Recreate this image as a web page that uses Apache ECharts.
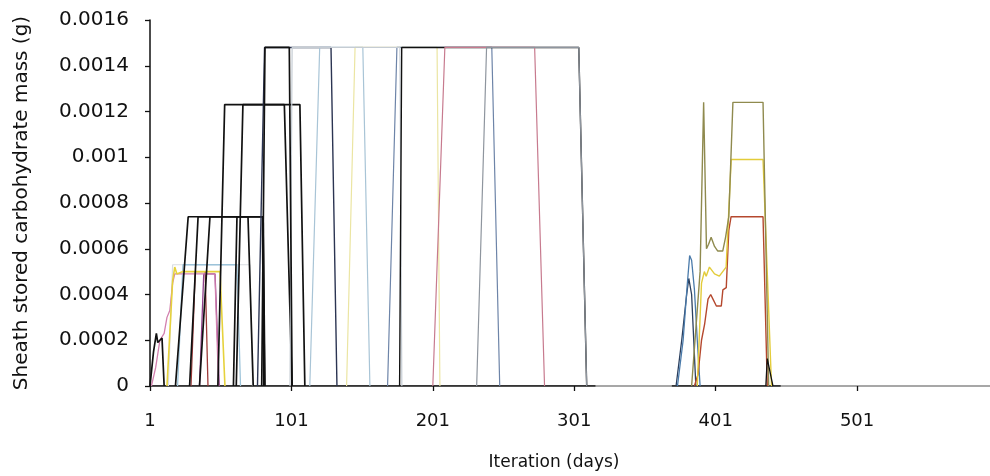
<!DOCTYPE html>
<html>
<head>
<meta charset="utf-8">
<script src="https://cdn.jsdelivr.net/npm/echarts@6/dist/echarts.min.js"></script>
<style>html,body{margin:0;padding:0;background:#fff}#c{width:990px;height:476px}</style>
</head>
<body>
<div id="c"></div>
<script>
// ---- tick labels ----
const xTicks = [1, 101, 201, 301, 401, 501];
const yMin = 0, yMax = 0.0016, yStep = 0.0002;

// ---- series values: [iteration day, sheath stored carbohydrate mass (g)] ----
const baseline = [[1,0],[316,0],[null,'-'],[370,0],[447,0]];
const blackStart = [[1,0],[3.5,0.00015],[5.5,0.00023],[6.5,0.00019],[8,0.0002],[9.5,0.00021],[11,0]];
const pinkFirst = [[2,0],[5,0.00008],[8,0.0002],[11,0.00023],[13,0.0003],[15,0.00033],[17,0.00045],[18.5,0.00049],[46.9,0.00049],[49.5,0]];
const paleGrayL1 = [[14,0],[17,0.00053],[71.7,0.00053],[73.5,0]];
const yellowL1 = [[13,0],[17,0.00046],[18.5,0.00052],[20,0.00049],[24,0.0005],[50.5,0.0005],[54,0]];
const lightBlueL1 = [[20.5,0],[24.3,0.00053],[62.5,0.00053],[65,0]];
const redL1 = [[30,0],[33,0.0005],[40,0.0005],[42,0]];
const purpleL1 = [[36,0],[39,0.00049],[47,0.00049],[50,0]];
const blackL2a = [[19,0],[28,0.00074],[81,0.00074],[82.3,0]];
const blackL2b = [[29,0],[35,0.00074],[70.3,0.00074],[74,0]];
const blackL2c = [[36,0],[43.4,0.00074],[80.5,0.00074],[81.5,0]];
const blackL2d = [[60,0],[62.5,0.00074],[81,0.00074],[82,0]];
const blackL3a = [[49,0],[53.8,0.00123],[96,0.00123],[101.4,0]];
const blackL3b = [[62,0],[66.7,0.00123],[107,0.00123],[110.5,0]];
const navyL4 = [[77,0],[82,0.00148],[129,0.00148],[133.2,0]];
const blackL4a = [[80,0],[82.3,0.00148],[99.5,0.00148],[101.5,0]];
const lightBlueL4 = [[114,0],[121,0.00148],[151.5,0.00148],[156.5,0]];
const paleYellowL4 = [[140,0],[146,0.00148],[204,0.00148],[206,0]];
const steelL4 = [[169,0],[175.6,0.00148],[242.7,0.00148],[248.3,0]];
const lightGrayL4 = [[100,0],[101.5,0.00148],[177.7,0.00148],[179.1,0]];
const blackL4b = [[177.5,0],[179,0.00148],[304.2,0.00148],[309.8,0]];
const pinkL4 = [[201,0],[209.5,0.00148],[273,0.00148],[280,0]];
const grayL4 = [[232,0],[239,0.00148],[304.2,0.00148],[309.8,0]];
const navyLate = [[373,0],[377,0.0002],[380.5,0.0004],[382,0.00047],[384,0.0004],[387,0]];
const blueLate = [[374,0],[378,0.0002],[381,0.00045],[382.6,0.00057],[384,0.00055],[386,0.00042],[388,0.0002],[390,0]];
const oliveLate = [[384,0],[390,0.0005],[392.5,0.00124],[393.5,0.00124],[394.5,0.0006],[396,0.00062],[397.8,0.00065],[400.2,0.00061],[402.5,0.00059],[406,0.00059],[408,0.00065],[410.3,0.00074],[413.2,0.00124],[434.5,0.00124],[438.5,0]];
const yellowLate = [[388,0],[391,0.00045],[393,0.0005],[394.3,0.00048],[396.6,0.00052],[400.2,0.00049],[403.6,0.00048],[406,0.0005],[408.4,0.00052],[412,0.00099],[434.5,0.00099],[440.5,0]];
const redLate = [[386,0],[388.5,0.00005],[391,0.0002],[393.2,0.00027],[395.6,0.00038],[397.5,0.0004],[399.1,0.00038],[401.5,0.00035],[405,0.00035],[406.1,0.00042],[408.5,0.00043],[410.3,0.00068],[411.9,0.00074],[434.5,0.00074],[437.5,0]];
const blackLate = [[436.5,0],[437.5,0.00012],[441.5,0]];

// ---- drawing order and styles ----
const defs = [
  [baseline, '#111111', 1.6],
  [paleGrayL1, '#d9dde2', 1.2],
  [lightBlueL1, '#9cc3d9', 1.3],
  [redL1, '#9c3a3a', 1.3],
  [purpleL1, '#8e3f8a', 1.3],
  [pinkFirst, '#d27fae', 1.3],
  [yellowL1, '#e6d23c', 1.6],
  [blackStart, '#111111', 1.7],
  [blackL2a, '#111111', 1.7],
  [blackL2b, '#111111', 1.7],
  [blackL2c, '#111111', 1.7],
  [blackL2d, '#111111', 1.7],
  [blackL3a, '#111111', 1.7],
  [blackL3b, '#111111', 1.7],
  [navyL4, '#2b3452', 1.4],
  [lightBlueL4, '#a8c4d6', 1.2],
  [paleYellowL4, '#ebe5a2', 1.2],
  [steelL4, '#6d84a8', 1.2],
  [lightGrayL4, '#c5ccd3', 1.2],
  [blackL4a, '#111111', 1.7],
  [blackL4b, '#111111', 1.4],
  [pinkL4, '#c77a8e', 1.2],
  [grayL4, '#8e959e', 1.2],
  [navyLate, '#2b3f5e', 1.3],
  [blueLate, '#4a7aaa', 1.3],
  [redLate, '#b5482e', 1.4],
  [yellowLate, '#e3cc3a', 1.4],
  [oliveLate, '#8f8a4e', 1.4],
  [blackLate, '#111111', 1.3]
];

const chart = echarts.init(document.getElementById('c'), null, {renderer: 'canvas'});
const font = 'DejaVu Sans';
chart.setOption({
  animation: false,
  backgroundColor: '#ffffff',
  grid: {left: 150, right: 0, top: 20, bottom: 90, containLabel: false},
  xAxis: {
    type: 'value', min: 1, max: 595,
    name: 'Iteration (days)', nameLocation: 'middle', nameGap: 68,
    nameTextStyle: {fontFamily: font, fontSize: 17, color: '#111', padding: [0, 32, 0, 0]},
    axisLine: {show: true, lineStyle: {color: '#8a8a8a', width: 1.5}},
    axisTick: {show: true, inside: false, length: 5, customValues: xTicks, lineStyle: {color: '#111', width: 1.3}},
    axisLabel: {customValues: xTicks, margin: 26, fontFamily: font, fontSize: 18, color: '#111'},
    splitLine: {show: false}
  },
  yAxis: {
    type: 'value', min: yMin, max: yMax, interval: yStep,
    name: 'Sheath stored carbohydrate mass (g)', nameLocation: 'middle', nameRotate: 90, nameGap: 118,
    nameTextStyle: {fontFamily: font, fontSize: 20, color: '#111'},
    axisLine: {show: true, lineStyle: {color: '#111', width: 1.5}},
    axisTick: {show: true, inside: false, length: 5, lineStyle: {color: '#111', width: 1.3}},
    axisLabel: {margin: 21, fontFamily: font, fontSize: 20, color: '#111',
      formatter: v => String(Number(v.toFixed(5)))},
    splitLine: {show: false}
  },
  series: defs.map(([d, c, w], i) => ({
    type: 'line', data: d, showSymbol: false, symbol: 'none', z: 2 + i * 0.01,
    connectNulls: false,
    lineStyle: {color: c, width: w}, itemStyle: {color: c}
  }))
});
</script>
</body>
</html>
